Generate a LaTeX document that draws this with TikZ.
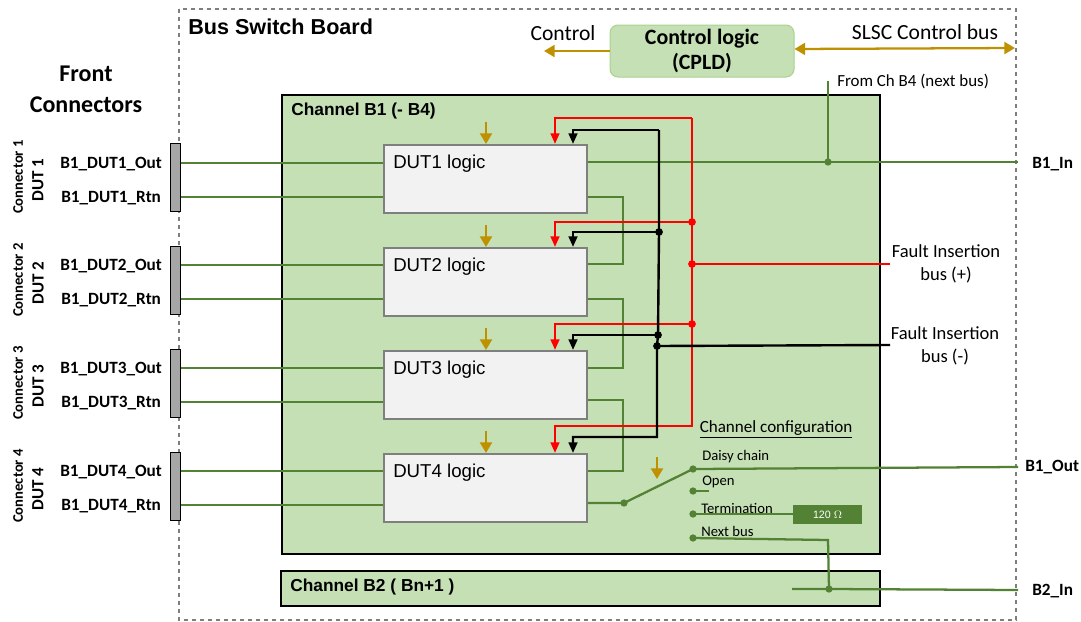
\documentclass[tikz,border=0pt]{standalone}
\usepackage{fontspec}
\setmainfont{Carlito}
\newfontfamily\arialfont{Liberation Sans}
\usetikzlibrary{arrows.meta}
\definecolor{boardgreen}{HTML}{C5E0B4}
\definecolor{edgegreen}{HTML}{A9D18E}
\definecolor{wiregreen}{HTML}{548235}
\definecolor{busgold}{HTML}{BF9000}
\definecolor{dashgrey}{HTML}{7F7F7F}
\definecolor{logicfill}{HTML}{F2F2F2}
\definecolor{plugfill}{HTML}{A6A6A6}
\newcommand{\fsz}[1]{\fontsize{#1}{#1}\selectfont}
\begin{document}
\begin{tikzpicture}[x=0.75pt,y=-0.75pt]
        \tikzset{board/.style = {draw=dashgrey,dashed,line width=1.1pt}}
        \tikzset{channel/.style = {draw=black,fill=boardgreen,line width=1pt,inner sep=0pt}}
        \tikzset{logic/.style = {draw=dashgrey,fill=logicfill,line width=1.5pt,minimum width=152pt,minimum height=51pt,inner sep=0pt}}
        \tikzset{logictxt/.style = {font=\arialfont\fsz{14},anchor=west,inner sep=0pt}}
        \tikzset{chantxt/.style = {font=\arialfont\bfseries\fsz{13},anchor=west,inner sep=0pt}}
        \tikzset{plug/.style = {draw=black,fill=plugfill,line width=0.9pt,minimum width=8pt,minimum height=51.5pt,inner sep=0pt}}
        \tikzset{pinlabel/.style = {font=\bfseries\fsz{12.9},anchor=west,inner sep=0pt,text height=9pt,text depth=1pt}}
        \tikzset{config/.style = {font=\fsz{11},anchor=west,inner sep=0pt}}
        \tikzset{wire/.style = {draw=wiregreen,line width=1.7pt}}
        \tikzset{redline/.style = {draw=red,line width=1.8pt}}
        \tikzset{blackline/.style = {draw=black,line width=1.8pt}}
        \tikzset{redarrow/.style = {redline,-{Triangle[width=6.5pt,length=8pt]}}}
        \tikzset{blackarrow/.style = {blackline,-{Triangle[width=6.5pt,length=8pt]}}}
        \tikzset{goldarrow/.style = {draw=busgold,line width=1.7pt,-{Triangle[width=9pt,length=8pt]}}}
        \tikzset{goldbus/.style = {draw=busgold,line width=1.7pt,{Triangle[width=9pt,length=8pt]}-{Triangle[width=9pt,length=8pt]}}}
        \tikzset{wiredot/.style = {circle,fill=wiregreen,inner sep=0pt,minimum size=5.5pt}}
        \tikzset{reddot/.style = {circle,fill=red,inner sep=0pt,minimum size=5.8pt}}
        \tikzset{blackdot/.style = {circle,fill=black,inner sep=0pt,minimum size=5.8pt}}
        \useasboundingbox (0,0) rectangle (1081,621);
        % board and channels
        \draw[board] (179,9) rectangle (1016,620);
        \node[channel,minimum width=448.5pt,minimum height=344.25pt] (chb1) at (581,324.5) {};
        \node[channel,minimum width=449.25pt,minimum height=26.25pt] (chb2) at (580.5,588.5) {};
        \node[draw=edgegreen,fill=boardgreen,rounded corners=6pt,line width=0.75pt,minimum width=138pt,minimum height=39pt,inner sep=0pt,align=center,font=\bfseries\fsz{16.4}] (ctrl) at (702,51) {Control logic\\[3pt](CPLD)};
        % texts
        \node[font=\arialfont\bfseries\fsz{16.2},anchor=west,inner sep=0pt] (title) at (188,27) {Bus Switch Board};
        \node[font=\bfseries\fsz{18},align=center,inner sep=0pt] (front) at (86,89) {Front\\[5pt]Connectors};
        \node[font=\fsz{16.2},inner sep=0pt] (ctrltxt) at (563,33) {Control};
        \node[font=\fsz{16.2},inner sep=0pt] (slsc) at (925,32) {SLSC Control bus};
        \node[font=\fsz{12.7},anchor=west,inner sep=0pt] (fromb4) at (837,81) {From Ch B4 (next bus)};
        \node[chantxt] (chb1txt) at (291,111) {Channel B1 (- B4)};
        \node[chantxt] (chb2txt) at (290,587) {Channel B2 ( Bn+1 )};
        \node[font=\fsz{13.9},align=center,inner sep=0pt] (fiplus) at (946,264) {Fault Insertion\\[3pt]bus (+)};
        \node[font=\fsz{13.9},align=center,inner sep=0pt] (fiminus) at (945,346) {Fault Insertion\\[3pt]bus (-)};
        \node[font=\fsz{12.8},inner sep=0pt] (cfg) at (776,429) {\underline{Channel configuration}};
        \node[pinlabel] (b1in) at (1032,163) {B1\_In};
        \node[pinlabel] (b1out) at (1025,466) {B1\_Out};
        \node[pinlabel] (b2in) at (1032,590) {B2\_In};
        % DUT logic blocks
        \node[logic] (dut1) at (485.5,179) {};
        \node[logic] (dut2) at (485.5,282) {};
        \node[logic] (dut3) at (485.5,385) {};
        \node[logic] (dut4) at (485.5,488) {};
        \node[logictxt] (dut1txt) at (393,163.5) {DUT1 logic};
        \node[logictxt] (dut2txt) at (393,266.5) {DUT2 logic};
        \node[logictxt] (dut3txt) at (393,369.5) {DUT3 logic};
        \node[logictxt] (dut4txt) at (393,472.5) {DUT4 logic};
        % front connectors
        \node[plug] (conn1) at (175.5,177.5) {};
        \node[plug] (conn2) at (175.5,280.5) {};
        \node[plug] (conn3) at (175.5,383.5) {};
        \node[plug] (conn4) at (175.5,486.5) {};
        \node[font=\bfseries\fsz{11},rotate=90,inner sep=0pt] (c1) at (18,177) {Connector 1};
        \node[font=\bfseries\fsz{11},rotate=90,inner sep=0pt] (c2) at (18,280) {Connector 2};
        \node[font=\bfseries\fsz{11},rotate=90,inner sep=0pt] (c3) at (18,383) {Connector 3};
        \node[font=\bfseries\fsz{11},rotate=90,inner sep=0pt] (c4) at (18,486) {Connector 4};
        \node[font=\bfseries\fsz{12.8},rotate=90,inner sep=0pt] (d1) at (38,180) {DUT 1};
        \node[font=\bfseries\fsz{12.8},rotate=90,inner sep=0pt] (d2) at (38,283) {DUT 2};
        \node[font=\bfseries\fsz{12.8},rotate=90,inner sep=0pt] (d3) at (38,386) {DUT 3};
        \node[font=\bfseries\fsz{12.8},rotate=90,inner sep=0pt] (d4) at (38,489) {DUT 4};
        \node[pinlabel] (out1) at (60,163) {B1\_DUT1\_Out};
        \node[pinlabel] (rtn1) at (61,197) {B1\_DUT1\_Rtn};
        \node[pinlabel] (out2) at (60,265) {B1\_DUT2\_Out};
        \node[pinlabel] (rtn2) at (61,299) {B1\_DUT2\_Rtn};
        \node[pinlabel] (out3) at (60,368) {B1\_DUT3\_Out};
        \node[pinlabel] (rtn3) at (61,402) {B1\_DUT3\_Rtn};
        \node[pinlabel] (out4) at (60,471) {B1\_DUT4\_Out};
        \node[pinlabel] (rtn4) at (61,505) {B1\_DUT4\_Rtn};
        % front wires
        \draw[wire] (conn1.east |- out1) -- (dut1.west |- out1);
        \draw[wire] (conn1.east |- rtn1) -- (dut1.west |- rtn1);
        \draw[wire] (conn2.east |- out2) -- (dut2.west |- out2);
        \draw[wire] (conn2.east |- rtn2) -- (dut2.west |- rtn2);
        \draw[wire] (conn3.east |- out3) -- (dut3.west |- out3);
        \draw[wire] (conn3.east |- rtn3) -- (dut3.west |- rtn3);
        \draw[wire] (conn4.east |- out4) -- (dut4.west |- out4);
        \draw[wire] (conn4.east |- rtn4) -- (dut4.west |- rtn4);
        % daisy chain between the blocks
        \coordinate (loop1a) at (623,197);
        \coordinate (loop1b) at (623,264);
        \coordinate (loop2a) at (623,299);
        \coordinate (loop2b) at (623,368);
        \coordinate (loop3a) at (623,400);
        \coordinate (loop3b) at (623,471);
        \draw[wire] (dut1.east |- loop1a) -- (loop1a) -- (loop1b) -- (dut2.east |- loop1b);
        \draw[wire] (dut2.east |- loop2a) -- (loop2a) -- (loop2b) -- (dut3.east |- loop2b);
        \draw[wire] (dut3.east |- loop3a) -- (loop3a) -- (loop3b) -- (dut4.east |- loop3b);
        % channel configuration
        \node[config] (daisy) at (702,457) {Daisy chain};
        \node[config] (open) at (702,482) {Open};
        \node[config] (term) at (701,508) {Termination};
        \node[config] (nextbus) at (701,531) {Next bus};
        \node[fill=wiregreen,text=white,font=\arialfont\fsz{8},minimum width=51.75pt,minimum height=14.25pt,inner sep=0pt] (res) at (827.5,514.5) {120 $\Omega$};
        \coordinate (swcom) at (624,503);
        \coordinate (swdaisy) at (693,469);
        \coordinate (swopen) at (693,491);
        \coordinate (swterm) at (693,514);
        \coordinate (swnext) at (693,538);
        \coordinate (openend) at (709,491);
        \coordinate (b1outend) at (1018,467);
        \coordinate (nextdown) at (828,540);
        \coordinate (b2start) at (792,589);
        \coordinate (b2end) at (1018,590);
        \coordinate (b1inend) at (1018,162);
        \coordinate (fromtop) at (828,81);
        \coordinate (b2tap) at (829,589);
        \coordinate (b1tap) at (828,162);
        \draw[wire] (dut4.east |- swcom) -- (swcom) -- (swdaisy) -- (b1outend);
        \draw[wire] (swopen) -- (openend);
        \draw[wire] (swterm) -- (swterm -| res.west);
        \draw[wire] (swnext) -- (nextdown) -- (b2tap);
        \draw[wire] (b2start) -- (b2tap) -- (b2end);
        \draw[wire] (dut1.east |- b1tap) -- (b1tap) -- (b1inend);
        \draw[wire] (fromtop) -- (b1tap);
        \node[wiredot] (dotcom) at (swcom) {};
        \node[wiredot] (dotdaisy) at (swdaisy) {};
        \node[wiredot] (dotopen) at (swopen) {};
        \node[wiredot] (dotterm) at (swterm) {};
        \node[wiredot] (dotnext) at (swnext) {};
        \node[wiredot] (dotb2) at (b2tap) {};
        \node[wiredot] (dotb1) at (b1tap) {};
        % fault bus (+)
        \coordinate (red1) at (692,118);
        \coordinate (red2) at (692,222);
        \coordinate (redfi) at (692,264);
        \coordinate (red3) at (692,324);
        \coordinate (red4) at (692,426);
        \coordinate (fipend) at (890,264);
        \draw[redarrow] (red1) -- (red4) -- (red4 -| 555,0) -- (555,0 |- dut4.north);
        \draw[redarrow] (red1) -- (red1 -| 555,0) -- (555,0 |- dut1.north);
        \draw[redarrow] (red2) -- (red2 -| 555,0) -- (555,0 |- dut2.north);
        \draw[redarrow] (red3) -- (red3 -| 555,0) -- (555,0 |- dut3.north);
        \draw[redline] (redfi) -- (fipend);
        \node[reddot] (dotred2) at (red2) {};
        \node[reddot] (dotredfi) at (redfi) {};
        \node[reddot] (dotred3) at (red3) {};
        % fault bus (-)
        \coordinate (blk1) at (659,130);
        \coordinate (blk2) at (659,232);
        \coordinate (blk3) at (658,335);
        \coordinate (blkfi) at (657,346);
        \coordinate (blk4) at (657,437);
        \coordinate (fimend) at (890,345);
        \draw[blackarrow] (blk1) -- (blk2) -- (blk3) -- (blkfi) -- (blk4) -- (blk4 -| 573,0) -- (573,0 |- dut4.north);
        \draw[blackarrow] (blk1) -- (blk1 -| 573,0) -- (573,0 |- dut1.north);
        \draw[blackarrow] (blk2) -- (blk2 -| 573,0) -- (573,0 |- dut2.north);
        \draw[blackarrow] (blk3) -- (blk3 -| 573,0) -- (573,0 |- dut3.north);
        \draw[blackline] (blkfi) -- (fimend);
        \node[blackdot] (dotblk2) at (blk2) {};
        \node[blackdot] (dotblk3) at (blk3) {};
        \node[blackdot] (dotblkfi) at (blkfi) {};
        % control arrows
        \coordinate (g1) at (486,122);
        \coordinate (g2) at (486,225);
        \coordinate (g3) at (486,328);
        \coordinate (g4) at (486,431);
        \coordinate (g5) at (657,457);
        \coordinate (g5end) at (657,479);
        \coordinate (ctrlend) at (544,51);
        \coordinate (slscend) at (1015,48);
        \draw[goldarrow] (g1) -- (g1 |- dut1.north);
        \draw[goldarrow] (g2) -- (g2 |- dut2.north);
        \draw[goldarrow] (g3) -- (g3 |- dut3.north);
        \draw[goldarrow] (g4) -- (g4 |- dut4.north);
        \draw[goldarrow] (g5) -- (g5end);
        \draw[goldarrow] (ctrl.west) -- (ctrlend);
        \draw[goldbus] (ctrl.east |- 0,49) -- (slscend);
\end{tikzpicture}
\end{document}
